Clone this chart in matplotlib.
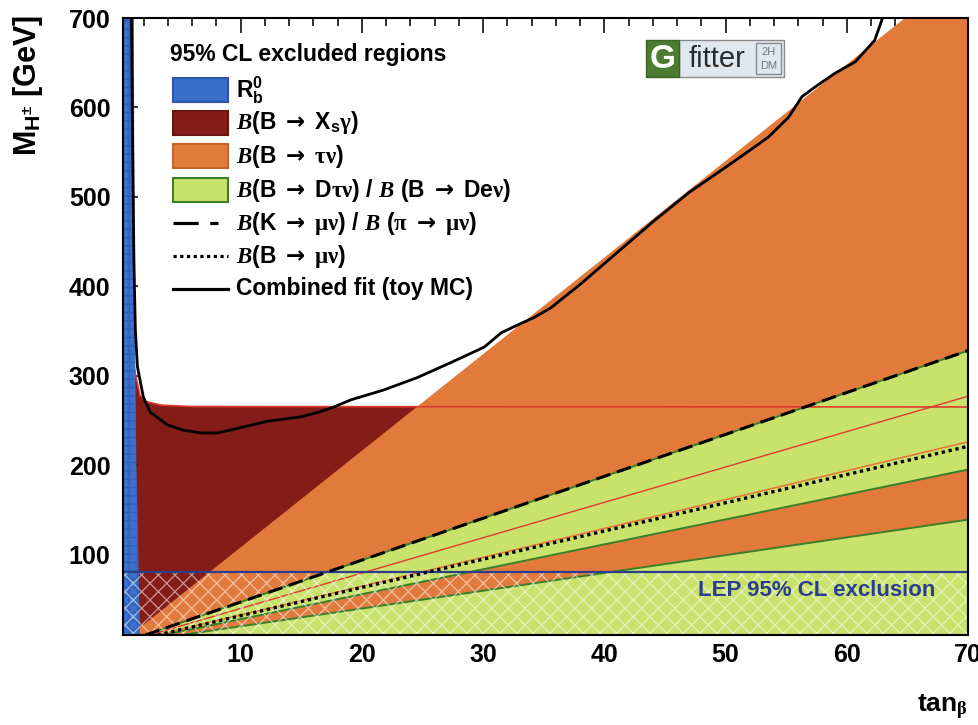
import matplotlib.pyplot as plt
from matplotlib.patches import Rectangle
from matplotlib.lines import Line2D
from matplotlib.ticker import MultipleLocator

plt.rcParams['font.family'] = ['Liberation Sans', 'DejaVu Sans']
plt.rcParams['font.weight'] = 'bold'
plt.rcParams['mathtext.fontset'] = 'custom'
plt.rcParams['mathtext.rm'] = 'Liberation Serif'
plt.rcParams['mathtext.it'] = 'Liberation Serif:italic'
plt.rcParams['mathtext.bf'] = 'Liberation Sans:bold'
plt.rcParams['mathtext.sf'] = 'Liberation Sans:bold'
plt.rcParams['mathtext.tt'] = 'DejaVu Sans'
plt.rcParams['hatch.linewidth'] = 0.9

W, H = 979, 725

# plane limits
TB_MIN, TB_MAX = 0.3, 70
M_MIN, M_MAX = 10, 700

# R_b^0 : excluded left of this edge
rb_edge_tb = [1.70, 1.40, 1.25, 1.20]
rb_edge_m = [10, 200, 400, 700]

# B -> Xs gamma : excluded below this edge
bsg_edge_tb = [0.3, 1.0, 1.3, 1.7, 2.2, 3.5, 6.0, 70]
bsg_edge_m = [360, 330, 303, 278, 271, 267, 265.5, 265]

# B -> tau nu : excluded below this edge
btaunu_edge_tb = [0.93, 64.8]
btaunu_edge_m = [10, 700]
# edges of the allowed tau nu strip (only visible as lines)
btaunu_strip_hi_tb = [2.5, 70]
btaunu_strip_hi_m = [10, 277]
btaunu_strip_lo_tb = [3.1, 70]
btaunu_strip_lo_m = [10, 226]

# B -> D tau nu / B -> D e nu : two excluded bands
dtaunu_band1_hi_tb = [2.14, 70]
dtaunu_band1_hi_m = [10, 328]
dtaunu_band1_lo_tb = [3.64, 70]
dtaunu_band1_lo_m = [10, 195]
dtaunu_band2_tb = [5.1, 70]
dtaunu_band2_m = [10, 139]

# K -> mu nu / pi -> mu nu (dashed) and B -> mu nu (dotted)
kmunu_tb = [2.14, 70]
kmunu_m = [10, 328]
bmunu_tb = [3.16, 70]
bmunu_m = [10, 221]

# combined fit (toy MC) 95% CL contour
fit_tb = [1.0, 1.1, 1.2, 1.32, 1.49, 1.98, 2.56, 3.97, 5.3, 6.69, 8.1, 9.42,
          12.2, 14.96, 16.4, 17.7, 19.1, 21.8, 24.6, 27.4, 30.1, 31.5, 32.9,
          34.2, 35.6, 38.0, 41.0, 44.0, 47.0, 50.0, 52.0, 53.55, 55.2, 56.3,
          57.4, 59.0, 60.7, 62.3, 62.9, 63.1]
fit_m = [700, 550, 430, 351, 310, 276, 259, 245, 239, 236, 236, 240,
         249, 254, 259, 265, 273, 284, 298, 315, 332, 348, 357,
         365, 376, 402, 437, 472, 505, 533, 552, 567, 589, 612,
         623, 638, 651, 675, 698, 705]

lep_limit = 80

c_blue = '#3b6fc9'
c_blue_dark = '#2f5fb8'
c_red = '#841c18'
c_orange = '#e27a3c'
c_green = '#c9e26c'
c_green_edge = '#3c7f2a'
c_redline = '#de3b2e'
c_lep = '#2b3e8e'

ARROW = r'$\mathtt{\rightarrow}$'


def fx(px):
    return px / W


def fy(py):
    return 1 - py / H


fig = plt.figure(figsize=(W / 100, H / 100), dpi=100)
ax = fig.add_axes([fx(123), fy(635), (968 - 123) / W, (635 - 18) / H])

# excluded regions, back to front
ax.fill(bsg_edge_tb + [TB_MAX, TB_MIN], bsg_edge_m + [M_MIN, M_MIN],
        color=c_red, lw=0, zorder=1)
ax.fill(btaunu_edge_tb + [TB_MAX, TB_MAX], btaunu_edge_m + [M_MAX, M_MIN],
        color=c_orange, lw=0, zorder=2)
ax.fill(dtaunu_band1_hi_tb + dtaunu_band1_lo_tb[::-1],
        dtaunu_band1_hi_m + dtaunu_band1_lo_m[::-1],
        color=c_green, lw=0, zorder=3)
ax.fill(dtaunu_band2_tb + [TB_MAX], dtaunu_band2_m + [M_MIN],
        color=c_green, lw=0, zorder=3)

# region edges
ax.plot(bsg_edge_tb[1:], bsg_edge_m[1:], color=c_redline, lw=1.2, zorder=4)
ax.plot(btaunu_strip_hi_tb, btaunu_strip_hi_m, color=c_redline, lw=1.0, zorder=4)
ax.plot(btaunu_strip_lo_tb, btaunu_strip_lo_m, color=c_orange, lw=1.2, zorder=4)
for tb, m in [(dtaunu_band1_hi_tb, dtaunu_band1_hi_m),
              (dtaunu_band1_lo_tb, dtaunu_band1_lo_m),
              (dtaunu_band2_tb, dtaunu_band2_m)]:
    ax.plot(tb, m, color=c_green_edge, lw=1.4, zorder=4)

# R_b^0 strip at small tan(beta)
ax.fill_betweenx(rb_edge_m, 0, rb_edge_tb, facecolor=c_blue,
                 edgecolor=c_blue_dark, hatch='++', lw=0, zorder=5)

# LEP direct search exclusion
ax.fill_between([TB_MIN, TB_MAX], M_MIN, lep_limit, facecolor='none',
                edgecolor=(1, 1, 1, 0.55), hatch='xx', lw=0, zorder=6)
ax.axhline(lep_limit, color=c_lep, lw=1.6, zorder=7)
ax.text(67.3, 60, 'LEP 95% CL exclusion', color=c_lep, fontsize=16,
        ha='right', va='center', zorder=7)

ax.plot(kmunu_tb, kmunu_m, color='black', lw=2.2,
        linestyle=(0, (4.8, 2.3)), zorder=8)
ax.plot(bmunu_tb, bmunu_m, color='black', lw=2.4,
        linestyle=(0, (1, 1.1)), zorder=8)
ax.plot(fit_tb, fit_m, color='black', lw=2.0, zorder=9)

# axes
ax.set_xlim(TB_MIN, TB_MAX)
ax.set_ylim(M_MIN, M_MAX)
ax.xaxis.set_major_locator(MultipleLocator(10))
ax.xaxis.set_minor_locator(MultipleLocator(2))
ax.yaxis.set_major_locator(MultipleLocator(100))
ax.yaxis.set_minor_locator(MultipleLocator(20))
ax.tick_params(which='both', direction='in', top=True, right=True,
               width=1.3, color='#222222', labelsize=18)
ax.tick_params(which='major', length=11)
ax.tick_params(which='minor', length=6)
ax.tick_params(axis='x', pad=6)
ax.tick_params(axis='y', pad=9)
for lab in ax.get_xticklabels() + ax.get_yticklabels():
    lab.set_fontweight('bold')
for sp in ax.spines.values():
    sp.set_linewidth(1.5)
    sp.set_zorder(10)

fig.text(fx(28), fy(15), r'M$_{\mathbf{H^{\pm}}}$ [GeV]', rotation=90,
         ha='center', va='top', fontsize=22)
fig.text(fx(968), fy(722), r'tan$_{\mathrm{\beta}}$', ha='right',
         va='bottom', fontsize=19)

# legend
fig.text(fx(170), fy(55), '95% CL excluded regions', fontsize=16.5,
         ha='left', va='center')
entries = [
    ('box', c_blue, '#2a55a8', r'R$_{\mathbf{b}}^{\mathbf{0}}$'),
    ('box', c_red, '#6a1512',
     r'$\mathit{B}$(B ' + ARROW + r' X$_{\mathbf{s}}\mathrm{\gamma}$)'),
    ('box', c_orange, '#c8652c',
     r'$\mathit{B}$(B ' + ARROW + r' $\mathrm{\tau\nu}$)'),
    ('box', c_green, c_green_edge,
     r'$\mathit{B}$(B ' + ARROW + r' D$\mathrm{\tau\nu}$) / $\mathit{B}$ (B '
     + ARROW + r' De$\mathrm{\nu}$)'),
    ('dash', None, None,
     r'$\mathit{B}$(K ' + ARROW + r' $\mathrm{\mu\nu}$) / $\mathit{B}$ ($\mathrm{\pi}$ '
     + ARROW + r' $\mathrm{\mu\nu}$)'),
    ('dot', None, None,
     r'$\mathit{B}$(B ' + ARROW + r' $\mathrm{\mu\nu}$)'),
    ('solid', None, None, 'Combined fit (toy MC)'),
]
row_y = [90, 123, 156, 190, 223, 256, 289]
for (kind, face, edge, label), yc in zip(entries, row_y):
    if kind == 'box':
        fig.add_artist(Rectangle((fx(173), fy(yc + 12)), 55 / W, 24 / H,
                                 facecolor=face, edgecolor=edge, lw=1.5,
                                 transform=fig.transFigure))
    else:
        style = {'dash': (0, (7.9, 3.6)), 'dot': (0, (1, 1.1)),
                 'solid': '-'}[kind]
        x1 = 218 if kind == 'dash' else 228
        fig.add_artist(Line2D([fx(173), fx(x1)], [fy(yc), fy(yc)],
                              color='black', lw=2.3, linestyle=style,
                              transform=fig.transFigure))
    fig.text(fx(236), fy(yc), label, fontsize=16.5, ha='left', va='center')

# Gfitter logo
def logo_box(x0, y0, x1, y1, face, edge):
    fig.add_artist(Rectangle((fx(x0), fy(y1)), (x1 - x0) / W, (y1 - y0) / H,
                             facecolor=face, edgecolor=edge, lw=1.0,
                             transform=fig.transFigure))

logo_box(679, 40, 784, 77, '#e0e8ef', '#8a8a8a')
logo_box(646, 40, 679, 77, '#4b7c2f', '#3a6424')
logo_box(756, 43, 781, 74, '#e0e8ef', '#8a8a8a')
fig.text(fx(662.5), fy(59), 'G', color='white', fontsize=24,
         ha='center', va='center')
fig.text(fx(717), fy(59), 'fitter', color='#2a2a2a', fontsize=21,
         fontweight='normal', ha='center', va='center')
fig.text(fx(768.5), fy(52), '2H', color='#777777', fontsize=8,
         fontweight='normal', ha='center', va='center')
fig.text(fx(768.5), fy(66), 'DM', color='#777777', fontsize=8,
         fontweight='normal', ha='center', va='center')

fig.savefig('out.png', dpi=100)
